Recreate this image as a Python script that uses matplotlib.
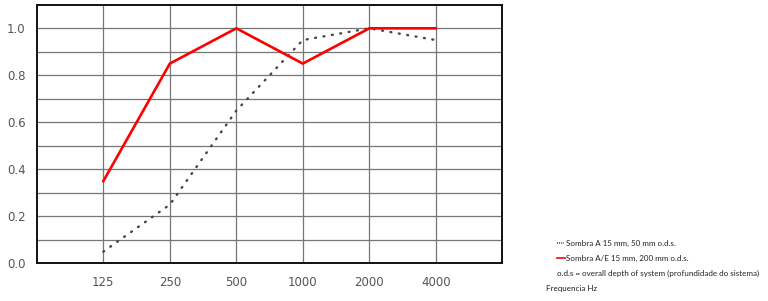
import matplotlib.pyplot as plt
from matplotlib.lines import Line2D

# frequency bands (Hz) and absorption coefficients
freqs = ['125', '250', '500', '1000', '2000', '4000']
sombra_a = [0.05, 0.25, 0.65, 0.95, 1.0, 0.95]
sombra_ae = [0.35, 0.85, 1.0, 0.85, 1.0, 1.0]
yticks = [0.0, 0.2, 0.4, 0.6, 0.8, 1.0]

fig = plt.figure(figsize=(7.68, 3.01), dpi=100)
ax = fig.add_axes([0.048, 0.125, 0.606, 0.859])

x = list(range(1, len(freqs) + 1))
ax.plot(x, sombra_a, color='#444444', linestyle=(0, (0.4, 3.2)), linewidth=1.7,
        dash_capstyle='round', zorder=3)
ax.plot(x, sombra_ae, color='#ff0000', linewidth=1.9, zorder=4)

ax.set_xlim(0, 7)
ax.set_ylim(0, 1.1)
ax.set_xticks(x)
ax.set_xticklabels(freqs)
ax.set_yticks(yticks)
ax.set_yticklabels(['%.1f' % v for v in yticks])
ax.set_yticks([i / 10 for i in range(11)], minor=True)
ax.grid(True, which='both', axis='y', color='#777777', linewidth=0.9)
ax.grid(True, which='major', axis='x', color='#777777', linewidth=0.9)
ax.tick_params(which='both', length=0, labelsize=8.5, labelcolor='#555555')
ax.tick_params(axis='y', pad=8)
ax.tick_params(axis='x', pad=9)
for s in ax.spines.values():
    s.set_color('#111111')
    s.set_linewidth(1.4)

# side notes
fs = 5.8
fam = 'Lato'
fig.add_artist(Line2D([557 / 768, 564 / 768], [1 - 243 / 301] * 2, color='#222222',
                      linestyle=(0, (0.6, 0.8)), linewidth=1.1))
fig.add_artist(Line2D([557 / 768, 565 / 768], [1 - 258 / 301] * 2, color='#ff0000', linewidth=1.2))
fig.text(566.5 / 768, 1 - 243 / 301, 'Sombra A 15 mm, 50 mm o.d.s.', fontsize=fs, family=fam,
         va='center', color='#222222')
fig.text(566.5 / 768, 1 - 258 / 301, 'Sombra A/E 15 mm, 200 mm o.d.s.', fontsize=fs, family=fam,
         va='center', color='#222222')
fig.text(557 / 768, 1 - 273 / 301, 'o.d.s = overall depth of system (profundidade do sistema)',
         fontsize=fs, family=fam, va='center', color='#222222')
fig.text(546 / 768, 1 - 288 / 301, 'Frequencia Hz', fontsize=fs, family=fam, va='center', color='#222222')

fig.savefig('out.png', dpi=100)
